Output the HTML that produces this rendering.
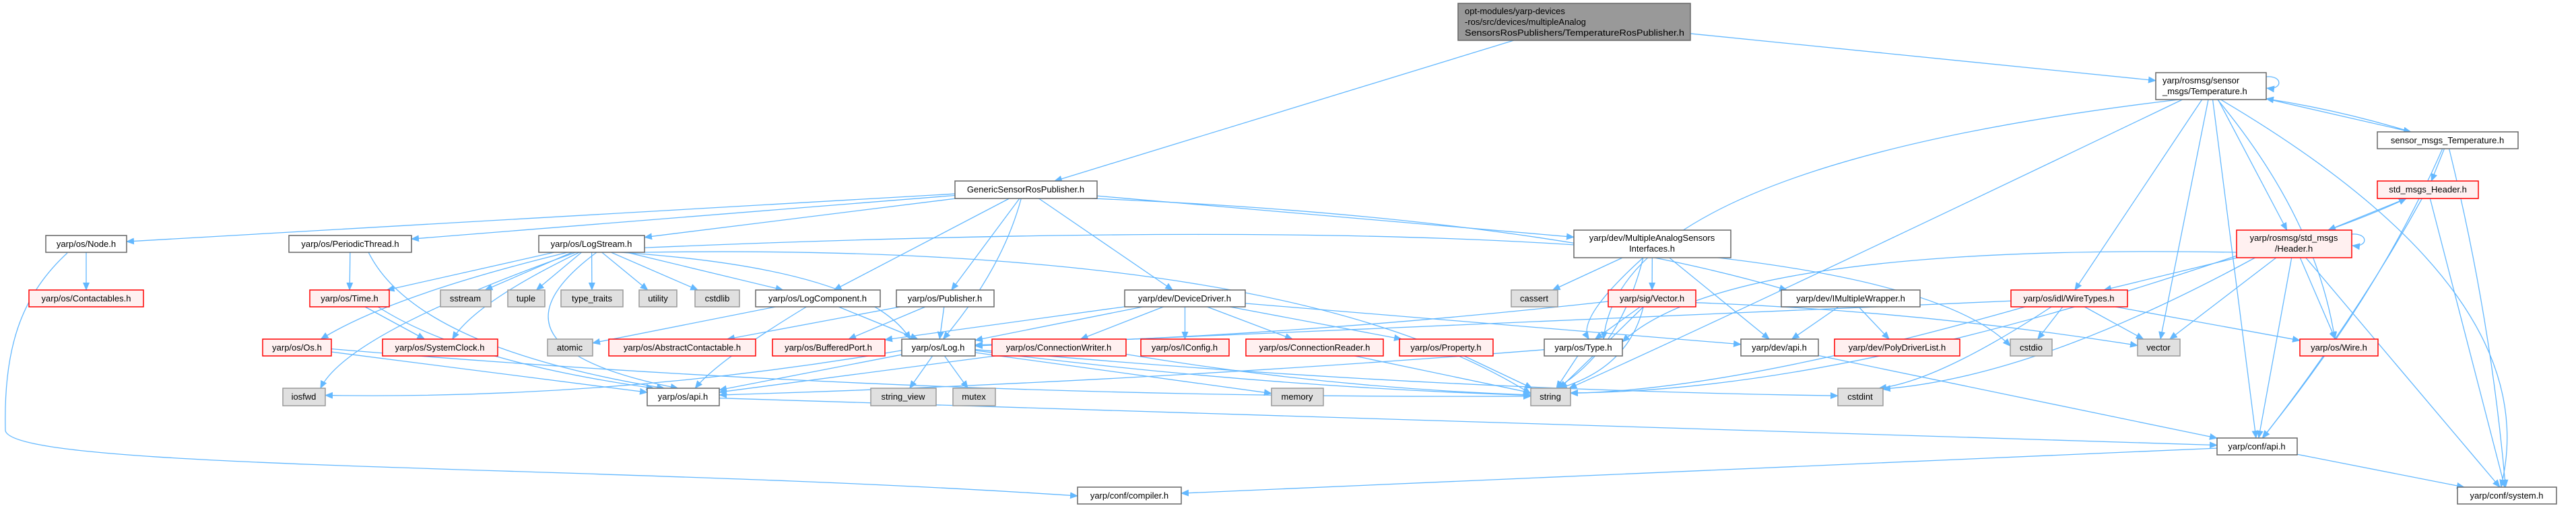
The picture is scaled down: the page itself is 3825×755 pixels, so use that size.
<!DOCTYPE html>
<html><head><meta charset="utf-8">
<style>
html,body{margin:0;padding:0;background:#fff;}
svg{display:block;}
text{font-family:"Liberation Sans",sans-serif;font-size:13px;fill:#000;}
</style></head>
<body>
<svg id="g" width="3825" height="755" viewBox="0 0 3825 755" xmlns="http://www.w3.org/2000/svg">
<defs>
<marker id="ah" markerWidth="12" markerHeight="10" refX="11" refY="5" orient="auto" markerUnits="userSpaceOnUse">
<path d="M0,0 L12,5 L0,10 z" fill="#63b8ff"/>
</marker>
</defs>
<g id="edges" fill="none" stroke="#63b8ff" stroke-width="1.3">
<path d="M100,376 C30,440 5,520 8,640 C20,700 900,690 1600,737" marker-end="url(#ah)"/>
</g>
<g id="nodes">
<rect x="2165" y="5" width="345" height="55" fill="#999" stroke="#666" stroke-width="1.5"/>
<text x="2175" y="21">opt-modules/yarp-devices</text>
<text x="2175" y="37">-ros/src/devices/multipleAnalog</text>
<text x="2175" y="53" textLength="326" lengthAdjust="spacingAndGlyphs">SensorsRosPublishers/TemperatureRosPublisher.h</text>

<rect x="3201" y="108" width="164" height="40" fill="#fff" stroke="#666" stroke-width="1.5"/>
<text x="3211" y="124">yarp/rosmsg/sensor</text>
<text x="3211" y="140">_msgs/Temperature.h</text>

<rect x="2337" y="342" width="233" height="41" fill="#fff" stroke="#666" stroke-width="1.5"/>
<text x="2453" y="358" text-anchor="middle">yarp/dev/MultipleAnalogSensors</text>
<text x="2453" y="374" text-anchor="middle">Interfaces.h</text>

<rect x="3321" y="342" width="171" height="41" fill="#fff0f0" stroke="#f00" stroke-width="1.5"/>
<text x="3406" y="358" text-anchor="middle">yarp/rosmsg/std_msgs</text>
<text x="3406" y="374" text-anchor="middle">/Header.h</text>
</g>
</svg>
<script>
var N={
gen:[1418,1629,269,295,"GenericSensorRosPublisher.h","w"],
smt:[3530,3739,196,221,"sensor_msgs_Temperature.h","w"],
smh:[3530,3680,269,295,"std_msgs_Header.h","r"],
node:[68,188,350,375,"yarp/os/Node.h","w"],
pt:[429,611,350,375,"yarp/os/PeriodicThread.h","w"],
ls:[800,957,350,375,"yarp/os/LogStream.h","w"],
cont:[43,213,431,456,"yarp/os/Contactables.h","r"],
time:[460,578,431,456,"yarp/os/Time.h","r"],
sstream:[654,729,431,456,"sstream","g"],
tuple:[754,809,431,456,"tuple","g"],
tt:[833,925,431,456,"type_traits","g"],
utility:[949,1005,431,456,"utility","g"],
cstdlib:[1032,1098,431,456,"cstdlib","g"],
lc:[1122,1307,431,456,"yarp/os/LogComponent.h","w"],
pub:[1331,1476,431,456,"yarp/os/Publisher.h","w"],
dd:[1670,1849,431,456,"yarp/dev/DeviceDriver.h","w"],
cassert:[2244,2313,431,456,"cassert","g"],
vec:[2388,2518,431,456,"yarp/sig/Vector.h","r"],
imw:[2645,2851,431,456,"yarp/dev/IMultipleWrapper.h","w"],
wt:[2986,3159,431,456,"yarp/os/idl/WireTypes.h","r"],
os:[390,492,504,529,"yarp/os/Os.h","r"],
sc:[568,739,504,529,"yarp/os/SystemClock.h","r"],
atomic:[813,880,504,529,"atomic","g"],
ac:[904,1122,504,529,"yarp/os/AbstractContactable.h","r"],
bp:[1147,1314,504,529,"yarp/os/BufferedPort.h","r"],
log:[1339,1448,504,529,"yarp/os/Log.h","w"],
cw:[1473,1672,504,529,"yarp/os/ConnectionWriter.h","r"],
ic:[1694,1825,504,529,"yarp/os/IConfig.h","r"],
cr:[1850,2054,504,529,"yarp/os/ConnectionReader.h","r"],
prop:[2078,2217,504,529,"yarp/os/Property.h","r"],
type:[2293,2409,504,529,"yarp/os/Type.h","w"],
devapi:[2585,2700,504,529,"yarp/dev/api.h","w"],
pdl:[2724,2910,504,529,"yarp/dev/PolyDriverList.h","r"],
cstdio:[2985,3047,504,529,"cstdio","g"],
vector:[3174,3237,504,529,"vector","g"],
wire:[3415,3531,504,529,"yarp/os/Wire.h","r"],
iosfwd:[420,483,577,603,"iosfwd","g"],
osapi:[961,1068,577,603,"yarp/os/api.h","w"],
sv:[1293,1390,577,603,"string_view","g"],
mutex:[1415,1478,577,603,"mutex","g"],
memory:[1888,1965,577,603,"memory","g"],
string:[2273,2332,577,603,"string","g"],
cstdint:[2729,2796,577,603,"cstdint","g"],
confapi:[3292,3411,651,676,"yarp/conf/api.h","w"],
compiler:[1600,1754,724,749,"yarp/conf/compiler.h","w"],
system:[3649,3796,724,749,"yarp/conf/system.h","w"],
top:[2165,2510,5,60],temp:[3201,3365,108,148],masi:[2337,2570,342,383],hdr:[3321,3492,342,383]
};
var NS="http://www.w3.org/2000/svg";
var ng=document.getElementById("nodes"),eg=document.getElementById("edges");
for(var k in N){var b=N[k];if(!b[4])continue;
var r=document.createElementNS(NS,"rect");r.setAttribute("x",b[0]);r.setAttribute("y",b[2]);r.setAttribute("width",b[1]-b[0]);r.setAttribute("height",b[3]-b[2]);
var f="#fff",s="#666";if(b[5]=="r"){f="#fff0f0";s="#f00";}if(b[5]=="g"){f="#e0e0e0";s="#999";}
r.setAttribute("fill",f);r.setAttribute("stroke",s);r.setAttribute("stroke-width","1.5");ng.appendChild(r);}
function cl(b,px,py,qx,qy){var dx=qx-px,dy=qy-py,hw=(b[1]-b[0])/2,hh=(b[3]-b[2])/2;
var t=1e9;if(dx!=0)t=Math.min(t,hw/Math.abs(dx));if(dy!=0)t=Math.min(t,hh/Math.abs(dy));return [px+dx*t,py+dy*t];}
function E(a,c,bend){var A=N[a],B=N[c];var ax=(A[0]+A[1])/2,ay=(A[2]+A[3])/2,bx=(B[0]+B[1])/2,by=(B[2]+B[3])/2;
var p=cl(A,ax,ay,bx,by),q=cl(B,bx,by,ax,ay);var d;
if(bend){var mx=(p[0]+q[0])/2+bend[0],my=(p[1]+q[1])/2+bend[1];d="M"+p[0]+","+p[1]+" Q"+mx+","+my+" "+q[0]+","+q[1];}
else d="M"+p[0]+","+p[1]+" L"+q[0]+","+q[1];
var pa=document.createElementNS(NS,"path");pa.setAttribute("d",d);pa.setAttribute("marker-end","url(#ah)");eg.appendChild(pa);}
var L=[["top","gen"],["top","temp"],
["gen","node"],["gen","pt"],["gen","ls"],["gen","lc"],["gen","pub"],["gen","log",[30,0]],["gen","dd"],["gen","masi"],["gen","imw",[150,-40]],
["node","cont"],
["pt","time"],["pt","osapi",[-150,40]],
["ls","time"],["ls","sstream"],["ls","tuple"],["ls","tt"],["ls","utility"],["ls","cstdlib"],["ls","lc"],["ls","log",[150,-40]],["ls","os",[-80,0]],["ls","sc",[-60,10]],["ls","iosfwd",[-150,20]],["ls","osapi",[-250,40]],["ls","string",[300,-120]],["ls","cstdio",[800,-150]],
["time","sc"],["time","osapi",[-80,20]],
["os","osapi"],["os","string",[0,40]],
["lc","atomic"],["lc","log"],["lc","osapi",[-50,20]],
["pub","ac"],["pub","bp"],["pub","log"],
["dd","log"],["dd","cw"],["dd","ic"],["dd","cr"],["dd","prop"],["dd","devapi"],["dd","bp"],
["log","iosfwd",[0,40]],["log","osapi"],["log","sv"],["log","mutex"],["log","memory"],["log","string",[0,20]],["log","cstdint",[0,25]],
["cw","osapi"],["cw","string",[0,20]],["cr","string"],["prop","string"],["type","osapi",[0,15]],["type","string"],
["masi","cassert"],["masi","vec"],["masi","type",[-60,30]],["masi","devapi"],["masi","string",[30,40]],
["vec","log",[0,20]],["vec","type"],["vec","string",[-30,30]],["vec","string",[40,30]],["vec","vector",[0,-20]],
["imw","devapi"],["imw","pdl"],
["devapi","confapi"],["osapi","confapi"],["confapi","compiler"],["confapi","system"],
["temp","smt"],["smt","temp",[0,-8]],["temp","hdr"],["temp","wt"],["temp","vector"],["temp","wire",[60,0]],["temp","confapi"],["temp","system",[280,0]],["temp","string",[-200,100]],["temp","type",[-400,-80]],
["smt","smh"],["smt","confapi",[40,0]],["smt","system",[20,0]],
["smh","hdr"],["hdr","smh",[8,0]],["smh","confapi",[20,0]],["smh","system"],
["hdr","wt"],["hdr","vector"],["hdr","wire"],["hdr","confapi"],["hdr","system"],["hdr","string",[-100,100]],["hdr","type",[-300,-80]],["hdr","cstdint",[-50,80]],
["wt","cstdio"],["wt","vector"],["wt","wire"],["wt","string",[-100,60]],["wt","cstdint",[-40,50]],["wt","log",[-400,20]]
];
L.forEach(function(e){E(e[0],e[1],e[2]);});
function loop(x,y){var pa=document.createElementNS(NS,"path");pa.setAttribute("d","M"+x+","+(y-8)+" C"+(x+25)+","+(y-10)+" "+(x+25)+","+(y+12)+" "+(x+1)+","+(y+9));pa.setAttribute("marker-end","url(#ah)");eg.appendChild(pa);}
loop(3365,122);loop(3492,356);
</script>
<div style="position:absolute;left:0;top:0;width:3825px;height:755px;pointer-events:none">
<svg width="3825" height="755" style="position:absolute;left:0;top:0">
<text x="128" y="367" text-anchor="middle">yarp/os/Node.h</text>
<text x="520" y="367" text-anchor="middle">yarp/os/PeriodicThread.h</text>
<text x="878" y="367" text-anchor="middle">yarp/os/LogStream.h</text>
<text x="1523" y="286" text-anchor="middle">GenericSensorRosPublisher.h</text>
<text x="3634" y="213" text-anchor="middle">sensor_msgs_Temperature.h</text>
<text x="3605" y="286" text-anchor="middle">std_msgs_Header.h</text>
<text x="128" y="448" text-anchor="middle">yarp/os/Contactables.h</text>
<text x="519" y="448" text-anchor="middle">yarp/os/Time.h</text>
<text x="691" y="448" text-anchor="middle">sstream</text>
<text x="781" y="448" text-anchor="middle">tuple</text>
<text x="879" y="448" text-anchor="middle">type_traits</text>
<text x="977" y="448" text-anchor="middle">utility</text>
<text x="1065" y="448" text-anchor="middle">cstdlib</text>
<text x="1214" y="448" text-anchor="middle">yarp/os/LogComponent.h</text>
<text x="1403" y="448" text-anchor="middle">yarp/os/Publisher.h</text>
<text x="1759" y="448" text-anchor="middle">yarp/dev/DeviceDriver.h</text>
<text x="2278" y="448" text-anchor="middle">cassert</text>
<text x="2453" y="448" text-anchor="middle">yarp/sig/Vector.h</text>
<text x="2748" y="448" text-anchor="middle">yarp/dev/IMultipleWrapper.h</text>
<text x="3072" y="448" text-anchor="middle">yarp/os/idl/WireTypes.h</text>
<text x="441" y="521" text-anchor="middle">yarp/os/Os.h</text>
<text x="653" y="521" text-anchor="middle">yarp/os/SystemClock.h</text>
<text x="846" y="521" text-anchor="middle">atomic</text>
<text x="1013" y="521" text-anchor="middle">yarp/os/AbstractContactable.h</text>
<text x="1230" y="521" text-anchor="middle">yarp/os/BufferedPort.h</text>
<text x="1393" y="521" text-anchor="middle">yarp/os/Log.h</text>
<text x="1572" y="521" text-anchor="middle">yarp/os/ConnectionWriter.h</text>
<text x="1759" y="521" text-anchor="middle">yarp/os/IConfig.h</text>
<text x="1952" y="521" text-anchor="middle">yarp/os/ConnectionReader.h</text>
<text x="2147" y="521" text-anchor="middle">yarp/os/Property.h</text>
<text x="2351" y="521" text-anchor="middle">yarp/os/Type.h</text>
<text x="2642" y="521" text-anchor="middle">yarp/dev/api.h</text>
<text x="2817" y="521" text-anchor="middle">yarp/dev/PolyDriverList.h</text>
<text x="3016" y="521" text-anchor="middle">cstdio</text>
<text x="3205" y="521" text-anchor="middle">vector</text>
<text x="3473" y="521" text-anchor="middle">yarp/os/Wire.h</text>
<text x="451" y="594" text-anchor="middle">iosfwd</text>
<text x="1014" y="594" text-anchor="middle">yarp/os/api.h</text>
<text x="1341" y="594" text-anchor="middle">string_view</text>
<text x="1446" y="594" text-anchor="middle">mutex</text>
<text x="1926" y="594" text-anchor="middle">memory</text>
<text x="2302" y="594" text-anchor="middle">string</text>
<text x="2762" y="594" text-anchor="middle">cstdint</text>
<text x="3351" y="668" text-anchor="middle">yarp/conf/api.h</text>
<text x="1677" y="741" text-anchor="middle">yarp/conf/compiler.h</text>
<text x="3722" y="741" text-anchor="middle">yarp/conf/system.h</text>
</svg>
</div>
</body></html>
